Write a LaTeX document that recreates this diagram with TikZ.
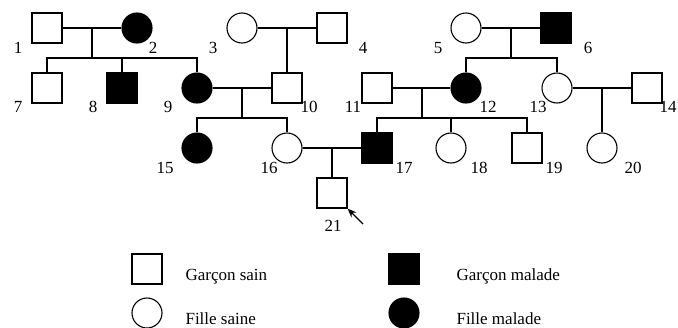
\documentclass[tikz,border=0pt]{standalone}
\usepackage{fontspec}
\setmainfont{Liberation Serif}
\usetikzlibrary{arrows.meta}

\begin{document}
\begin{tikzpicture}[x=1pt, y=-1pt, line width=1.1pt,
    garcon/.style={draw, rectangle, minimum size=30, inner sep=0},
    fille/.style={draw, circle, minimum size=30, inner sep=0},
    malade/.style={fill=black},
    num/.style={inner sep=0, font=\fontsize{17}{19}\selectfont},
    legende/.style={anchor=base west, inner sep=0, font=\fontsize{17}{19}\selectfont}]
  \useasboundingbox (0,0) rectangle (678,327);
  % generation I
  \node[garcon] (m1) at (47,28) {};
  \node[fille, malade] (f2) at (137,28) {};
  \node[fille] (f3) at (242,28) {};
  \node[garcon] (m4) at (332,28) {};
  \node[fille] (f5) at (466,28) {};
  \node[garcon, malade] (m6) at (556,28) {};
  % generation II
  \node[garcon] (m7) at (47,88) {};
  \node[garcon, malade] (m8) at (122,88) {};
  \node[fille, malade] (f9) at (197,88) {};
  \node[garcon] (m10) at (287,88) {};
  \node[garcon] (m11) at (377,88) {};
  \node[fille, malade] (f12) at (466,88) {};
  \node[fille] (f13) at (557,88) {};
  \node[garcon] (m14) at (647,88) {};
  % generation III
  \node[fille, malade] (f15) at (197,148) {};
  \node[fille] (f16) at (287,148) {};
  \node[garcon, malade] (m17) at (377,148) {};
  \node[fille] (f18) at (451,148) {};
  \node[garcon] (m19) at (527,148) {};
  \node[fille] (f20) at (602,148) {};
  % generation IV
  \node[garcon] (m21) at (332,193) {};

  % numbers
  \foreach \n/\x/\y in {1/18/48, 2/153/48, 3/213/48, 4/363/48, 5/438/48, 6/588/48,
      7/18/107, 8/93/107, 9/168/107, 10/309/107, 11/353/107, 12/488/107, 13/538/107, 14/668/107,
      15/165/168, 16/269/168, 17/404/168, 18/479/168, 19/554/168, 20/633/168, 21/333/226} {
    \node[num] (l\n) at (\x,\y) {\n};
  }

  % couples
  \draw (m1) -- (f2);
  \draw (f3) -- (m4);
  \draw (f5) -- (m6);
  \draw (f9) -- (m10);
  \draw (m11) -- (f12);
  \draw (f13) -- (m14);
  \draw (f16) -- (m17);
  \coordinate (c1) at (92,28);
  \coordinate (c3) at (287,28);
  \coordinate (c5) at (511,28);
  \coordinate (c9) at (242,88);
  \coordinate (c11) at (422,88);
  \coordinate (c13) at (602,88);
  \coordinate (c16) at (332,148);

  % children
  \coordinate (s1) at (92,58);
  \draw (c1) -- (s1);
  \draw (m7) -- (m7 |- s1) -- (f9 |- s1) -- (f9);
  \draw (m8) -- (m8 |- s1);
  \draw (c3) -- (m10);
  \coordinate (s5) at (511,58);
  \draw (c5) -- (s5);
  \draw (f12) -- (f12 |- s5) -- (f13 |- s5) -- (f13);
  \coordinate (s9) at (242,118);
  \draw (c9) -- (s9);
  \draw (f15) -- (f15 |- s9) -- (f16 |- s9) -- (f16);
  \coordinate (s11) at (422,118);
  \draw (c11) -- (s11);
  \draw (m17) -- (m17 |- s11) -- (m19 |- s11) -- (m19);
  \draw (f18) -- (f18 |- s11);
  \draw (c13) -- (f20);
  \draw (c16) -- (m21);

  % proband
  \coordinate (fl) at (363,224);
  \draw[-{Stealth[length=9pt, width=7pt]}] (fl) -- (m21.south east);

  % legend
  \node[garcon] (lg1) at (147,269) {};
  \node[legende] (lt1) at (185,280) {Garçon sain};
  \node[garcon, malade] (lg2) at (404,269) {};
  \node[legende] (lt2) at (456,280) {Garçon malade};
  \node[fille] (lg3) at (147,313) {};
  \node[legende] (lt3) at (185,324) {Fille saine};
  \node[fille, malade] (lg4) at (404,313) {};
  \node[legende] (lt4) at (456,324) {Fille malade};
\end{tikzpicture}
\end{document}
